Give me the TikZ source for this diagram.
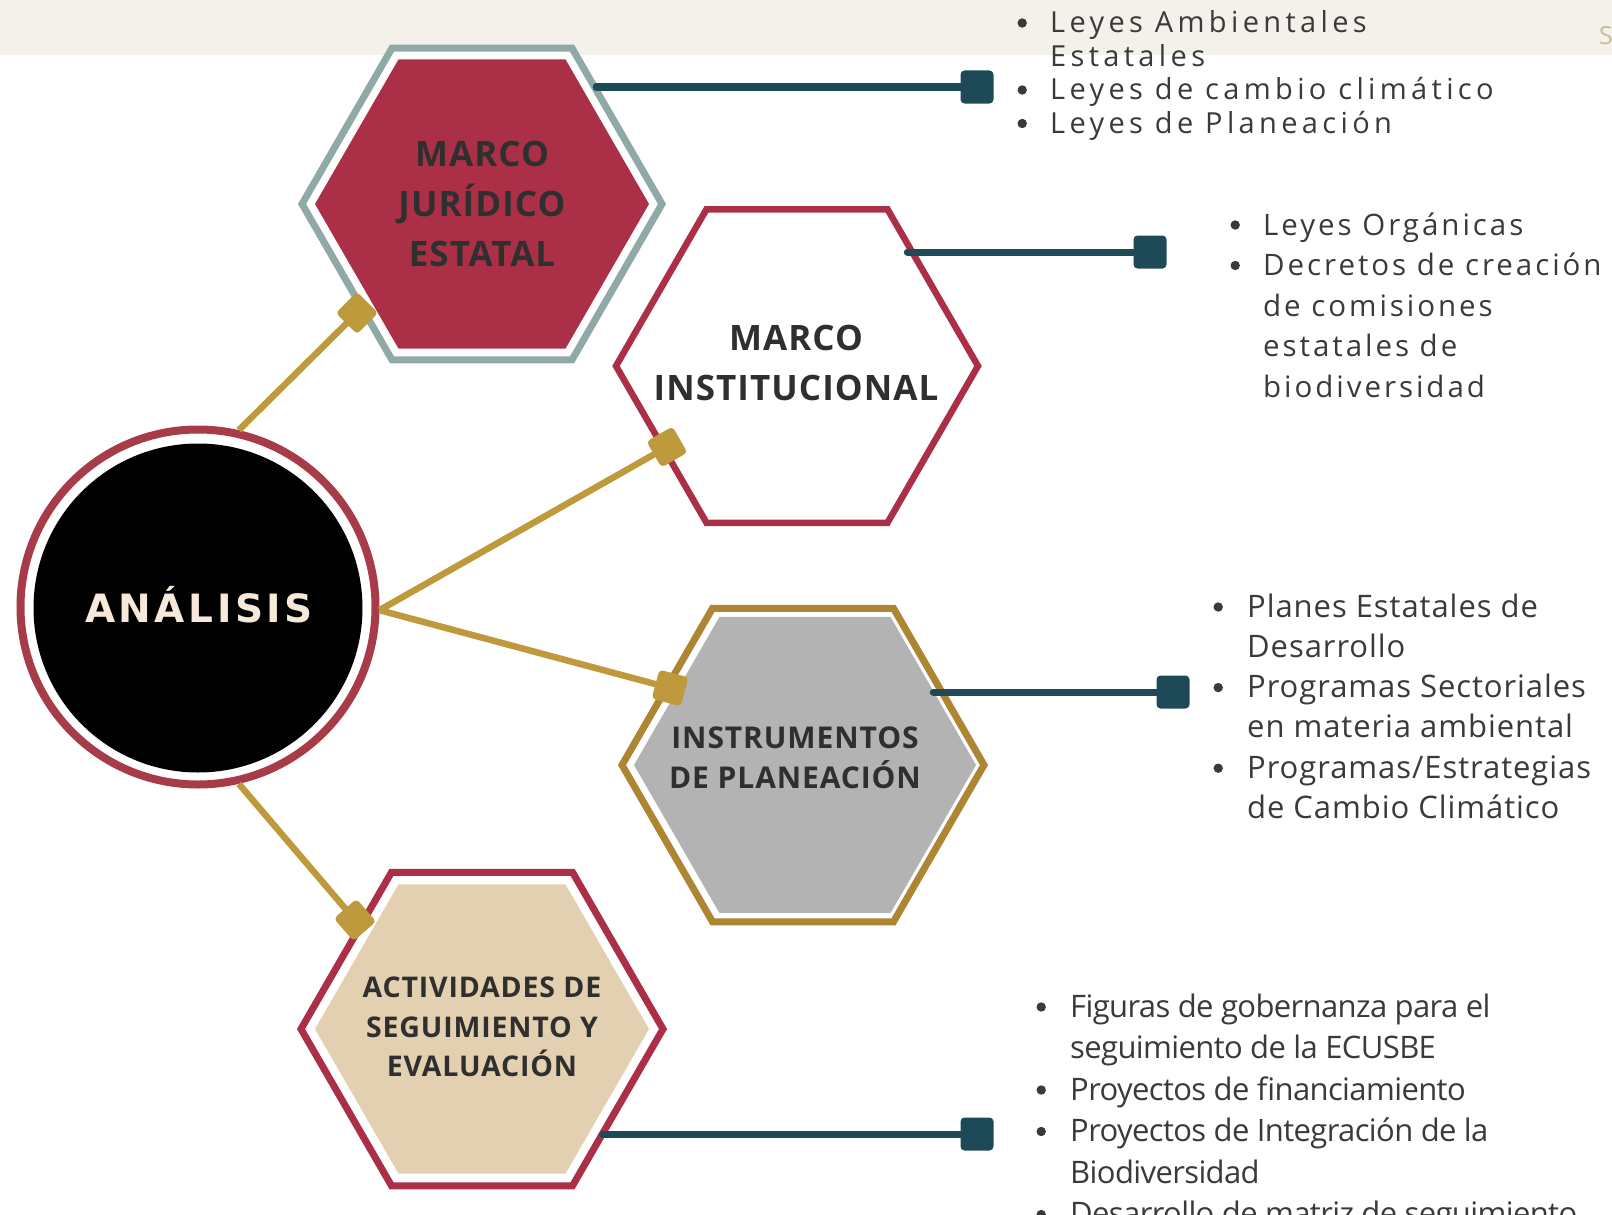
\documentclass[tikz,border=0pt]{standalone}
\usepackage{fontspec}
\setmainfont{Open Sans}
\newfontfamily\anfont[LetterSpace=9]{DejaVu Sans}
\usetikzlibrary{shapes.geometric}
\definecolor{band}{HTML}{F4F1EB}
\definecolor{crim}{HTML}{AA2F47}
\definecolor{ringc}{HTML}{A83B48}
\definecolor{sage}{HTML}{8FA9A7}
\definecolor{ochre}{HTML}{AE8532}
\definecolor{greyf}{HTML}{B3B3B3}
\definecolor{beige}{HTML}{E3D0B0}
\definecolor{gold}{HTML}{BF9A3C}
\definecolor{tealc}{HTML}{1E4A57}
\definecolor{txt}{HTML}{2F2F2F}
\definecolor{ltxt}{HTML}{3A3A3A}
\definecolor{cream}{HTML}{F7E8D9}
\definecolor{stan}{HTML}{CDBB91}
\newcommand\dotb{\tikz[baseline=0pt]\fill[fill=ltxt] (0pt,10pt) circle[radius=4.7pt];}
\newcommand\bl[2]{\hbox{\makebox[#1][c]{\dotb}#2}}
\newcommand\cl[2]{\hbox{\hspace*{#1}#2}}
\begin{document}
\begin{tikzpicture}[x=1pt,y=-1pt,
  hexs/.style={regular polygon, regular polygon sides=6, inner sep=0pt, outer sep=0pt},
  hext/.style={align=center, text=txt, inner sep=0pt},
  gsq/.style={rectangle, fill=gold, minimum size=30pt, inner sep=0pt, rounded corners=4pt},
  tsq/.style={rectangle, fill=tealc, minimum size=33pt, inner sep=0pt, rounded corners=4pt},
  gline/.style={draw=gold, line width=6.5pt},
  tline/.style={draw=tealc, line width=7pt, line cap=round},
  lst/.style={anchor=base west, inner sep=0pt, text=ltxt},
]
\useasboundingbox (0,0) rectangle (1612,1215);
\fill[fill=band] (0,0) rectangle (1612,55);

% hexagons
\node[hexs, minimum size=360pt, draw=sage, line width=7pt, fill=white] (h1o) at (482,204) {};
\node[hexs, minimum size=334pt, fill=crim] (h1) at (482,204) {};
\node[hexs, minimum size=362pt, draw=crim, line width=6.5pt, fill=white] (h2) at (797,366) {};
\node[hexs, minimum size=362pt, draw=ochre, line width=7pt, fill=white] (h3o) at (803,765) {};
\node[hexs, minimum size=342pt, fill=greyf] (h3) at (805,765) {};
\node[hexs, minimum size=362pt, draw=crim, line width=7pt, fill=white] (h4o) at (482,1029) {};
\node[hexs, minimum size=334pt, fill=beige] (h4) at (482,1029) {};

% central circle
\node[circle, minimum size=355pt, draw=ringc, line width=8pt, fill=white, inner sep=0pt, outer sep=4pt] (an) at (198,607) {};
\node[circle, minimum size=329pt, fill=black, inner sep=0pt] (anin) at (198,608) {};
\node[anchor=base, text=cream, inner sep=0pt, font={\anfont\bfseries\fontsize{39pt}{39pt}\selectfont}] (ant) at (199,622) {ANÁLISIS};

% gold connectors
\node[gsq, rotate=45] (g1) at (357,313) {};
\node[gsq, rotate=30] (g2) at (667,447) {};
\node[gsq, rotate=-15] (g3) at (670,688) {};
\node[gsq, rotate=-49] (g4) at (355,920) {};
\draw[gline] (an.77) -- (g1.center);
\draw[gline] (an.-1) -- (g2.center);
\draw[gline] (an.-1) -- (g3.center);
\draw[gline] (an.-77) -- (g4.center);

% teal connectors
\node[tsq] (q1) at (977,87) {};
\node[tsq] (q2) at (1150,252) {};
\node[tsq] (q3) at (1173,692) {};
\node[tsq] (q4) at (977,1134) {};
\draw[tline] (q1.center) -- (q1.center -| h1o.45);
\draw[tline] (q2.center) -- (q2.center -| h2.48);
\draw[tline] (q3.center) -- (q3.center -| h3.30);
\draw[tline] (q4.center) -- (q4.center -| h4o.-41);

% hexagon texts
\node[hext, font={\bfseries\fontsize{35pt}{50pt}\selectfont\addfontfeatures{LetterSpace=3}}] (t1) at (482,204) {MARCO\\JURÍDICO\\ESTATAL};
\node[hext, font={\bfseries\fontsize{35pt}{50pt}\selectfont\addfontfeatures{LetterSpace=3}}] (t2) at (796,363) {MARCO\\INSTITUCIONAL};
\node[hext, font={\bfseries\fontsize{30pt}{40pt}\selectfont\addfontfeatures{LetterSpace=3}}] (t3) at (795,758) {INSTRUMENTOS\\DE PLANEACIÓN};
\node[hext, font={\bfseries\fontsize{28.5pt}{39.5pt}\selectfont\addfontfeatures{LetterSpace=3}}] (t4) at (482,1027) {ACTIVIDADES DE\\SEGUIMIENTO Y\\EVALUACIÓN};

% lists
\node[lst, font={\fontsize{29pt}{33.5pt}\selectfont\addfontfeatures{LetterSpace=15}}] (l1) at (994,33)
 {\vtop{\bl{56pt}{Leyes Ambientales}\cl{56pt}{Estatales}\bl{56pt}{Leyes de cambio climático}\bl{56pt}{Leyes de Planeación}}};
\node[lst, font={\fontsize{29.5pt}{40.5pt}\selectfont\addfontfeatures{LetterSpace=10}}] (l2) at (1207,235)
 {\vtop{\bl{56pt}{Leyes Orgánicas}\bl{56pt}{Decretos de creación}\cl{56pt}{de comisiones}\cl{56pt}{estatales de}\cl{56pt}{biodiversidad}}};
\node[lst, font={\fontsize{31pt}{40.3pt}\selectfont\addfontfeatures{LetterSpace=3}}] (l3) at (1189,617)
 {\vtop{\bl{58pt}{Planes Estatales de}\cl{58pt}{Desarrollo}\bl{58pt}{Programas Sectoriales}\cl{58pt}{en materia ambiental}\bl{58pt}{Programas/Estrategias}\cl{58pt}{de Cambio Climático}}};
\node[lst, font={\fontsize{31pt}{41.5pt}\selectfont\addfontfeatures{LetterSpace=-2}}] (l4) at (1012,1017)
 {\vtop{\bl{58pt}{Figuras de gobernanza para el}\cl{58pt}{seguimiento de la ECUSBE}\bl{58pt}{Proyectos de financiamiento}\bl{58pt}{Proyectos de Integración de la}\cl{58pt}{Biodiversidad}\bl{58pt}{Desarrollo de matriz de seguimiento}}};

\node[anchor=base west, text=stan, inner sep=0pt, font={\fontsize{25pt}{25pt}\selectfont}] (s) at (1599,45) {S};
\end{tikzpicture}
\end{document}
